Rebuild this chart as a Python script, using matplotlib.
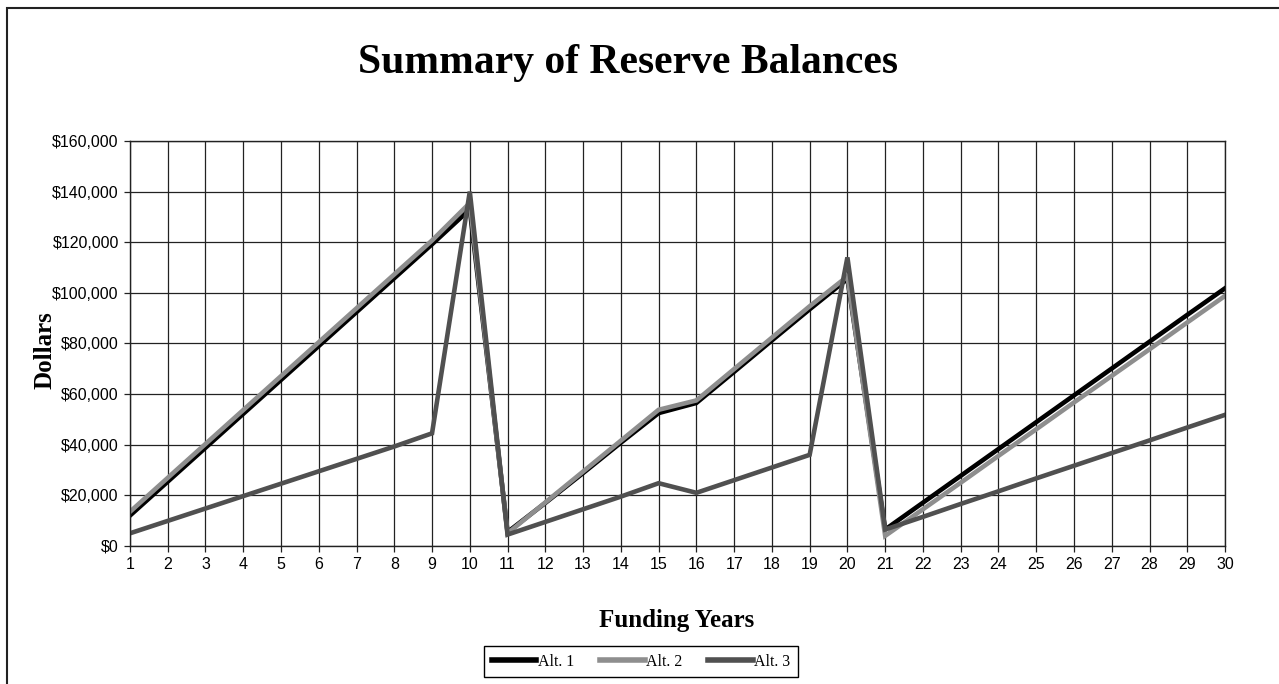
import matplotlib
matplotlib.use("Agg")
import matplotlib.pyplot as plt
from matplotlib.patches import Rectangle
from matplotlib.ticker import FuncFormatter

# funding years 1..30
years = list(range(1, 31))

# reserve balances (dollars)
alt1 = [12000, 25400, 38800, 52200, 65600, 79000, 92400, 105800, 119200, 133000,
        5500, 17000, 28800, 40800, 52500, 56500, 68800, 81200, 93500, 105500,
        6500, 17100, 27700, 38300, 48900, 59500, 70100, 80700, 91300, 101800]
alt2 = [13500, 26900, 40300, 53700, 67100, 80500, 93900, 107300, 120700, 135500,
        5000, 17200, 29400, 41600, 53800, 57500, 69900, 82300, 94700, 106500,
        4000, 14500, 25000, 35600, 46100, 56700, 67200, 77700, 88300, 98800]
alt3 = [5000, 9900, 14800, 19700, 24600, 29500, 34400, 39300, 44500, 140000,
        4500, 9500, 14500, 19500, 24800, 21000, 26000, 31000, 36000, 114000,
        6500, 11500, 16600, 21600, 26700, 31700, 36700, 41700, 46800, 51800]

series_names = ["Alt. 1", "Alt. 2", "Alt. 3"]
series_colors = ["#000000", "#8e8e8e", "#505050"]

serif = ["Liberation Serif", "DejaVu Serif"]
sans = ["Liberation Sans", "DejaVu Sans"]

fig = plt.figure(figsize=(12.79, 6.84), dpi=100)
ax = fig.add_axes([0.1016, 0.2018, 0.8562, 0.5921])

for vals, name, col in zip([alt1, alt2, alt3], series_names, series_colors):
    ax.plot(years, vals, color=col, lw=3.3, label=name, solid_joinstyle="miter")

ax.set_xlim(1, 30)
ax.set_ylim(0, 160000)
ax.set_xticks(years)
ax.set_yticks(range(0, 160001, 20000))
ax.yaxis.set_major_formatter(FuncFormatter(lambda v, p: "${:,.0f}".format(v)))
ax.grid(True, color="#222222", lw=0.9)
ax.set_axisbelow(True)
for s in ax.spines.values():
    s.set_color("#222222")
    s.set_linewidth(1.0)
ax.tick_params(length=4, width=0.9, color="#222222", pad=4, labelsize=11.5)
for lab in ax.get_xticklabels() + ax.get_yticklabels():
    lab.set_family(sans)

fig.text(0.491, 1 - 63 / 684, "Summary of Reserve Balances", ha="center", va="center",
         fontsize=30, fontweight="bold", family=serif)
fig.text(45 / 1279, 1 - 350 / 684, "Dollars", ha="center", va="center", rotation=90,
         fontsize=18, fontweight="bold", family=serif)
fig.text(677 / 1279, 1 - 620 / 684, "Funding Years", ha="center", va="center",
         fontsize=18, fontweight="bold", family=serif)

leg = fig.legend(loc="center", bbox_to_anchor=(641 / 1279, 1 - 661.5 / 684), ncol=3,
                 fancybox=False, edgecolor="#000000", framealpha=1,
                 prop={"family": serif, "size": 11.5}, handlelength=2.8,
                 handletextpad=0.1, columnspacing=1.6, borderpad=0.45)
leg.get_frame().set_linewidth(1.0)
for h in leg.get_lines():
    h.set_linewidth(4.0)

# outer chart border (left and top visible)
fig.patches.append(Rectangle((7 / 1279, -0.05), 1.2, 1 - 8 / 684 + 0.05,
                             transform=fig.transFigure, fill=False,
                             edgecolor="#222222", lw=1.5))

fig.savefig("out.png", dpi=100)
